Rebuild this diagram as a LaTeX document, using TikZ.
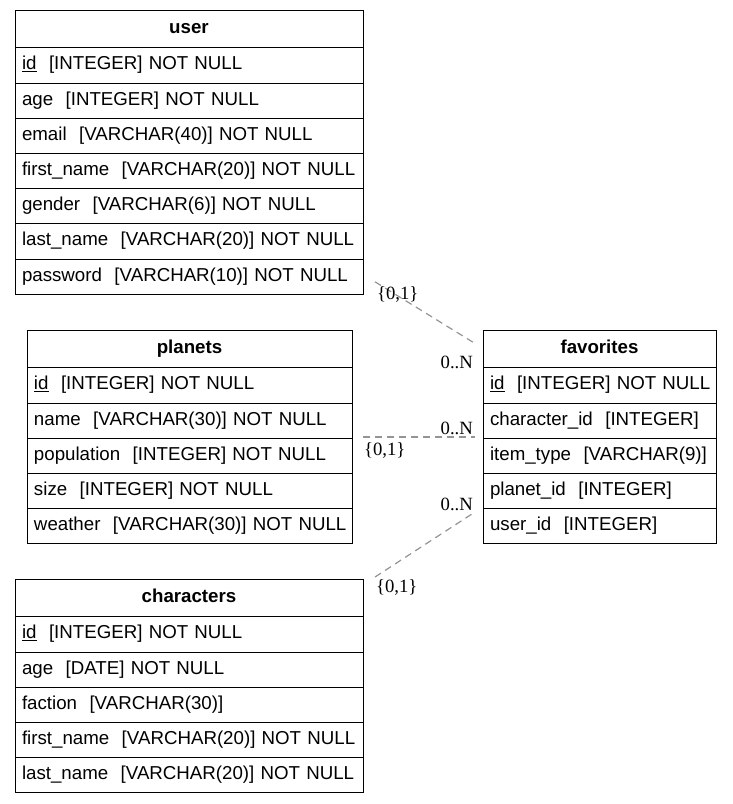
\documentclass[tikz,border=0pt]{standalone}
\usepackage{fontspec}
\setmainfont{Liberation Sans}
\newfontfamily\cardfont{Liberation Serif}
\usetikzlibrary{positioning}

\tikzset{
  hdr/.style={draw, rectangle, outer sep=0pt, inner xsep=7pt, inner ysep=0pt,
    minimum width=#1, text width=#1-14pt, align=center, minimum height=37.5pt,
    font=\fontsize{18.7}{22}\selectfont\bfseries, text height=13.5pt, text depth=4pt},
  fld/.style={draw, rectangle, outer sep=0pt, inner xsep=7pt, inner ysep=0pt,
    minimum width=#1, text width=#1-14pt, align=left, minimum height=35.2pt,
    font=\fontsize{18.7}{22}\selectfont, text height=13.5pt, text depth=4pt},
  rel/.style={draw=black!42, line width=1.2pt, dash pattern=on 7pt off 5pt},
  card/.style={font=\fontsize{18.7}{22}\cardfont, inner sep=1.5pt},
}

\begin{document}
\begin{tikzpicture}[x=1pt,y=-1pt]
  \useasboundingbox (0,0) rectangle (732,804);

  % user
  \node[hdr=348, anchor=north west] (user-0) at (15,10) {user};
  \foreach \i/\txt in {1/{\underline{id}~~[INTEGER] NOT NULL},
      2/{age~~[INTEGER] NOT NULL},
      3/{email~~[VARCHAR(40)] NOT NULL},
      4/{first\_name~~[VARCHAR(20)] NOT NULL},
      5/{gender~~[VARCHAR(6)] NOT NULL},
      6/{last\_name~~[VARCHAR(20)] NOT NULL},
      7/{password~~[VARCHAR(10)] NOT NULL}} {
    \pgfmathtruncatemacro\prev{\i-1}
    \node[fld=348, below=0pt of user-\prev] (user-\i) {\mbox{\txt}};
  }

  % planets
  \node[hdr=325, anchor=north west] (planets-0) at (27,330) {planets};
  \foreach \i/\txt in {1/{\underline{id}~~[INTEGER] NOT NULL},
      2/{name~~[VARCHAR(30)] NOT NULL},
      3/{population~~[INTEGER] NOT NULL},
      4/{size~~[INTEGER] NOT NULL},
      5/{weather~~[VARCHAR(30)] NOT NULL}} {
    \pgfmathtruncatemacro\prev{\i-1}
    \node[fld=325, below=0pt of planets-\prev] (planets-\i) {\mbox{\txt}};
  }

  % characters
  \node[hdr=348, anchor=north west] (chars-0) at (15,579) {characters};
  \foreach \i/\txt in {1/{\underline{id}~~[INTEGER] NOT NULL},
      2/{age~~[DATE] NOT NULL},
      3/{faction~~[VARCHAR(30)]},
      4/{first\_name~~[VARCHAR(20)] NOT NULL},
      5/{last\_name~~[VARCHAR(20)] NOT NULL}} {
    \pgfmathtruncatemacro\prev{\i-1}
    \node[fld=348, below=0pt of chars-\prev] (chars-\i) {\mbox{\txt}};
  }

  % favorites
  \node[hdr=233, anchor=north west] (fav-0) at (483,330) {favorites};
  \foreach \i/\txt in {1/{\underline{id}~~[INTEGER] NOT NULL},
      2/{character\_id~~[INTEGER]},
      3/{item\_type~~[VARCHAR(9)]},
      4/{planet\_id~~[INTEGER]},
      5/{user\_id~~[INTEGER]}} {
    \pgfmathtruncatemacro\prev{\i-1}
    \node[fld=233, below=0pt of fav-\prev] (fav-\i) {\mbox{\txt}};
  }

  % relations
  \draw[rel] ([shift={(12,5.5)}]user-7.east) -- ([shift={(-10,-6.5)}]fav-0.west)
    node[card, at start, anchor=north west, yshift=-3pt] (c-u1) {\{0,1\}}
    node[card, at end, anchor=north east, xshift=2pt, yshift=-12pt] (c-u2) {0..N};
  \draw[rel] ([shift={(11,-1)}]planets-3.north east) -- ([shift={(-8,-1)}]fav-3.north west)
    node[card, at start, anchor=north west, xshift=-1pt, yshift=-4pt] (c-p1) {\{0,1\}}
    node[card, at end, anchor=south east] (c-p2) {0..N};
  \draw[rel] ([shift={(12,-2)}]chars-0.north east) -- ([shift={(-10,5)}]fav-5.north west)
    node[card, at start, anchor=north west, xshift=-1pt] (c-c1) {\{0,1\}}
    node[card, at end, anchor=south east, xshift=2pt] (c-c2) {0..N};
\end{tikzpicture}
\end{document}
